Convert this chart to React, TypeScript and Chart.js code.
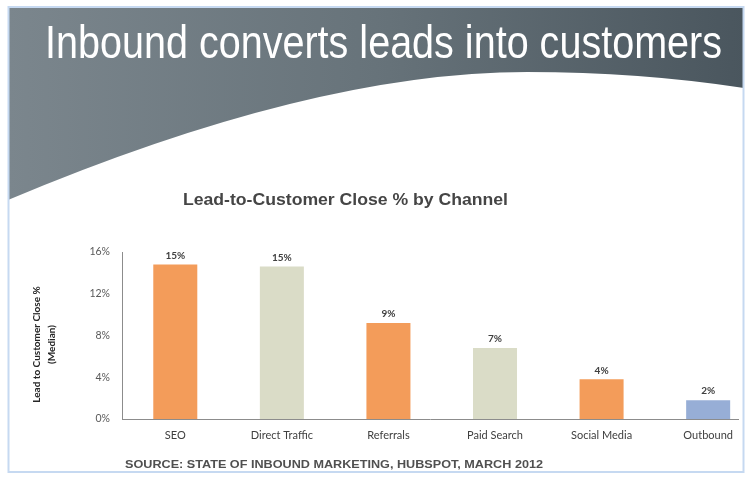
import React, { useEffect, useRef } from "react";
import { Chart, registerables } from "chart.js";

Chart.register(...registerables);

const categories = ["SEO", "Direct Traffic", "Referrals", "Paid Search", "Social Media", "Outbound"];
const values = [14.8, 14.6, 9.2, 6.8, 3.8, 1.8];
const valueLabels = ["15%", "15%", "9%", "7%", "4%", "2%"];
const barColors = ["#F39C5A", "#DADCC7", "#F39C5A", "#DADCC7", "#F39C5A", "#97AED6"];
const yTicks = [0, 4, 8, 12, 16];
const slideTitle = "Inbound converts leads into customers";
const chartTitle = "Lead-to-Customer Close % by Channel";
const yTitle = ["Lead to Customer Close %", "(Median)"];
const sourceText = "SOURCE: STATE OF INBOUND MARKETING, HUBSPOT, MARCH 2012";

function fitText(ctx: CanvasRenderingContext2D, text: string, x: number, y: number, width: number) {
  const w = ctx.measureText(text).width;
  ctx.save();
  ctx.translate(x, y);
  ctx.scale(width / w, 1);
  ctx.fillText(text, 0, 0);
  ctx.restore();
}

const decor = {
  id: "decor",
  beforeDraw(chart: any) {
    const ctx: CanvasRenderingContext2D = chart.ctx;
    ctx.save();
    ctx.fillStyle = "#ffffff";
    ctx.fillRect(0, 0, chart.width, chart.height);
    // header band
    const g = ctx.createLinearGradient(8, 0, 744, 0);
    g.addColorStop(0, "#7b868d");
    g.addColorStop(0.5, "#67737a");
    g.addColorStop(1, "#4a565e");
    ctx.fillStyle = g;
    ctx.beginPath();
    ctx.moveTo(8, 7);
    ctx.lineTo(744, 7);
    ctx.lineTo(744, 88);
    ctx.quadraticCurveTo(640, 72, 527, 72);
    ctx.quadraticCurveTo(312, 72, 8, 200);
    ctx.closePath();
    ctx.fill();
    // slide title
    ctx.fillStyle = "#ffffff";
    ctx.font = "46px 'Liberation Sans Narrow', 'Liberation Sans', sans-serif";
    ctx.textBaseline = "alphabetic";
    ctx.textAlign = "left";
    fitText(ctx, slideTitle, 45, 58, 677);
    // chart title
    ctx.fillStyle = "#454545";
    ctx.font = "bold 16px 'Liberation Sans', sans-serif";
    ctx.textBaseline = "middle";
    fitText(ctx, chartTitle, 183, 201, 325);
    // source
    ctx.fillStyle = "#505050";
    ctx.font = "bold 11px 'Liberation Sans', sans-serif";
    fitText(ctx, sourceText, 125, 465, 418);
    ctx.restore();
  },
  afterDatasetsDraw(chart: any) {
    const ctx: CanvasRenderingContext2D = chart.ctx;
    const meta = chart.getDatasetMeta(0);
    ctx.save();
    ctx.fillStyle = "#404040";
    ctx.font = "bold 10px Lato, sans-serif";
    ctx.textAlign = "center";
    ctx.textBaseline = "bottom";
    meta.data.forEach((bar: any, i: number) => {
      ctx.fillText(valueLabels[i], bar.x, bar.y - 4);
    });
    ctx.restore();
  },
  afterDraw(chart: any) {
    const ctx: CanvasRenderingContext2D = chart.ctx;
    ctx.save();
    // y-axis title (two lines, rotated)
    ctx.fillStyle = "#262626";
    ctx.font = "bold 10px Lato, sans-serif";
    ctx.textAlign = "center";
    ctx.textBaseline = "middle";
    const cy = (chart.chartArea.top + chart.chartArea.bottom) / 2 + 9;
    yTitle.forEach((line, i) => {
      ctx.save();
      ctx.translate(37 + i * 15, cy);
      ctx.rotate(-Math.PI / 2);
      ctx.fillText(line, 0, 0);
      ctx.restore();
    });
    // slide frame
    ctx.strokeStyle = "#C6D9F1";
    ctx.lineWidth = 2;
    ctx.strokeRect(8.5, 7, 735, 465);
    ctx.restore();
  },
};

export default function App() {
  const ref = useRef<HTMLCanvasElement>(null);
  useEffect(() => {
    if (!ref.current) return;
    const chart = new Chart(ref.current, {
      type: "bar",
      data: {
        datasets: [
          {
            data: values.map((v, i) => ({ x: i, y: v })),
            backgroundColor: barColors,
            borderWidth: 0,
            barPercentage: 0.413,
            categoryPercentage: 1,
          },
        ],
      },
      options: {
        animation: false,
        responsive: false,
        devicePixelRatio: 1,
        layout: { padding: { left: 20, right: 14, top: 252, bottom: 31 } },
        plugins: { legend: { display: false }, tooltip: { enabled: false }, title: { display: false } },
        scales: {
          x: {
            type: "linear",
            bounds: "data",
            offset: false,
            min: -0.5,
            max: 5.28,
            afterBuildTicks: (s: any) => {
              s.ticks = categories.map((_, i) => ({ value: i }));
            },
            afterFit: (s: any) => {
              s.height = 30;
            },
            ticks: {
              callback: (v: any) => categories[v],
              autoSkip: false,
              maxRotation: 0,
              padding: 10,
              color: "#404040",
              font: { family: "Lato, sans-serif", size: 11 },
            },
            grid: { display: false, drawTicks: false, offset: false },
            border: { display: true, color: "#8c8c8c", dash: [1, 1] },
          },
          y: {
            min: 0,
            max: 16,
            afterBuildTicks: (s: any) => {
              s.ticks = yTicks.map((v) => ({ value: v }));
            },
            afterFit: (s: any) => {
              s.width = 102;
            },
            ticks: {
              callback: (v: any) => v + "%",
              padding: 12,
              color: "#595959",
              font: { family: "Lato, sans-serif", size: 10.5 },
            },
            grid: { display: false, drawTicks: false },
            border: { display: true, color: "#8c8c8c", dash: [1, 1] },
            title: { display: false },
          },
        },
      },
      plugins: [decor],
    });
    return () => chart.destroy();
  }, []);
  return (
    <div style={{ position: "absolute", left: 0, top: 0, width: 752, height: 480 }}>
      <canvas ref={ref} width={752} height={480} />
    </div>
  );
}
